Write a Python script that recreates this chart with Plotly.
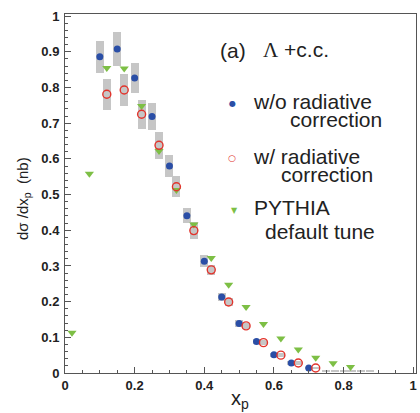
import plotly.graph_objects as go

# --- data ---
x_wo = [0.10, 0.15, 0.20, 0.25, 0.30, 0.35, 0.40, 0.45, 0.50, 0.55, 0.60, 0.65, 0.70]
y_wo = [0.886, 0.908, 0.827, 0.719, 0.580, 0.441, 0.313, 0.213, 0.139, 0.088, 0.051, 0.028, 0.014]
sys_wo = [0.045, 0.047, 0.043, 0.037, 0.031, 0.022, 0.017, 0.012, 0.009, 0.007, 0.006, 0.005, 0.004]

x_w = [0.12, 0.17, 0.22, 0.27, 0.32, 0.37, 0.42, 0.47, 0.52, 0.57, 0.62, 0.67, 0.72]
y_w = [0.781, 0.793, 0.725, 0.638, 0.522, 0.399, 0.289, 0.199, 0.132, 0.085, 0.050, 0.028, 0.014]
sys_w = [0.043, 0.045, 0.041, 0.037, 0.030, 0.024, 0.014, 0.011, 0.009, 0.007, 0.006, 0.005, 0.004]

# high-x bins: only systematic boxes visible near zero
x_tail = [0.75, 0.775, 0.80, 0.825, 0.85, 0.875]
y_tail = [0.005, 0.005, 0.005, 0.005, 0.005, 0.005]
sys_tail = [0.003, 0.003, 0.003, 0.003, 0.003, 0.003]

x_py = [0.02, 0.07, 0.12, 0.17, 0.22, 0.27, 0.32, 0.37, 0.42, 0.47, 0.52, 0.57, 0.62, 0.67, 0.72, 0.77, 0.82]
y_py = [0.113, 0.558, 0.855, 0.853, 0.748, 0.622, 0.513, 0.416, 0.322, 0.247, 0.185, 0.137, 0.097, 0.066, 0.043, 0.027, 0.017]

x_ticks = [0, 0.2, 0.4, 0.6, 0.8, 1]
x_ticklabels = ["0", "0.2", "0.4", "0.6", "0.8", "1"]
y_ticks = [0, 0.1, 0.2, 0.3, 0.4, 0.5, 0.6, 0.7, 0.8, 0.9, 1]
y_ticklabels = ["0", "0.1", "0.2", "0.3", "0.4", "0.5", "0.6", "0.7", "0.8", "0.9", "1"]

BLUE = "#2a4ea6"
RED = "#e2332b"
GREEN = "#7dbf45"
GRAY = "#c6c6c6"
BOXW = 0.023

fig = go.Figure()

box_x = x_wo + x_w + x_tail
box_y = y_wo + y_w + y_tail
box_e = sys_wo + sys_w + sys_tail
fig.add_trace(go.Bar(
    x=box_x,
    y=[2 * e for e in box_e],
    base=[y - e for y, e in zip(box_y, box_e)],
    width=BOXW,
    marker=dict(color=GRAY, line=dict(width=0)),
    showlegend=False, hoverinfo="skip",
))

fig.add_trace(go.Scatter(
    x=x_py, y=y_py, mode="markers",
    marker=dict(symbol="triangle-down", size=8, color=GREEN, line=dict(width=0)),
    showlegend=False,
))
fig.add_trace(go.Scatter(
    x=x_wo, y=y_wo, mode="markers",
    marker=dict(symbol="circle", size=7, color=BLUE, line=dict(width=0)),
    showlegend=False,
))
fig.add_trace(go.Scatter(
    x=x_w, y=y_w, mode="markers",
    marker=dict(symbol="circle-open", size=8, color=RED, line=dict(width=1.4, color=RED)),
    showlegend=False,
))

FAM = "Liberation Sans, Arial, sans-serif"
TICKFONT = dict(family=FAM, size=13, color="#222222")
axis_common = dict(
    showline=True, linecolor="#555555", linewidth=1, mirror=True,
    ticks="inside", tickcolor="#555555", showgrid=False, zeroline=False,
    tickfont=TICKFONT, automargin=False,
)

fig.update_xaxes(
    range=[0, 1.008], tickvals=x_ticks, ticktext=[f"<b>{t}</b>" for t in x_ticklabels], ticklen=6,
    minor=dict(dtick=0.05, ticks="inside", ticklen=3, tickcolor="#555555"),
    ticklabelstandoff=0,
    **axis_common,
)
fig.update_yaxes(
    range=[0, 1.006], tickvals=y_ticks, ticktext=[f"<b>{t}</b>" for t in y_ticklabels], ticklen=6,
    minor=dict(dtick=0.02, ticks="inside", ticklen=3, tickcolor="#555555"),
    ticklabelstandoff=2,
    **axis_common,
)

L, R, T, B = 65, 4, 14, 40
PW = 420 - L - R
PH = 413 - T - B

# legend / label texts (paper coordinates)
def px2paper(px, py):
    return (px - L) / PW, (413 - B - py) / PH

LEGFONT = dict(family=FAM, size=21, color="#222222")
def add_text(txt, px, py, font=LEGFONT, xanchor="left", angle=0):
    xp, yp = px2paper(px, py)
    fig.add_annotation(text=txt, x=xp, y=yp, xref="paper", yref="paper",
                       xanchor=xanchor, yanchor="middle", showarrow=False,
                       font=font, textangle=angle)

add_text("(a)", 218, 50)
add_text("<span style='font-family:Liberation Serif'>Λ</span> +c.c.", 261, 50)
add_text("w/o radiative", 251, 101)
add_text("correction", 288, 119)
add_text("w/ radiative", 251, 156)
add_text("correction", 279, 174)
add_text("PYTHIA", 252, 207)
add_text("default tune", 263, 232)
add_text("●", 232, 103, font=dict(family="DejaVu Sans", size=8, color=BLUE), xanchor="center")
add_text("○", 232, 158, font=dict(family="DejaVu Sans", size=9, color=RED), xanchor="center")
add_text("▼", 234, 211, font=dict(family="DejaVu Sans", size=8, color=GREEN), xanchor="center")

# axis titles
add_text("x<sub>p</sub>", 240, 399, font=dict(family=FAM, size=20, color="#222222"), xanchor="center")
add_text("dσ /dx<sub>p</sub>  (nb)", 23, 199, font=dict(family=FAM, size=15, color="#222222"),
         xanchor="center", angle=-90)

fig.update_layout(
    width=420, height=413,
    margin=dict(l=L, r=R, t=T, b=B),
    paper_bgcolor="white", plot_bgcolor="white",
    bargap=0, barmode="overlay",
    showlegend=False,
)

fig.write_html("out.html", config={"displayModeBar": False},
               post_script="document.body.style.margin='0';document.body.style.padding='0';")
